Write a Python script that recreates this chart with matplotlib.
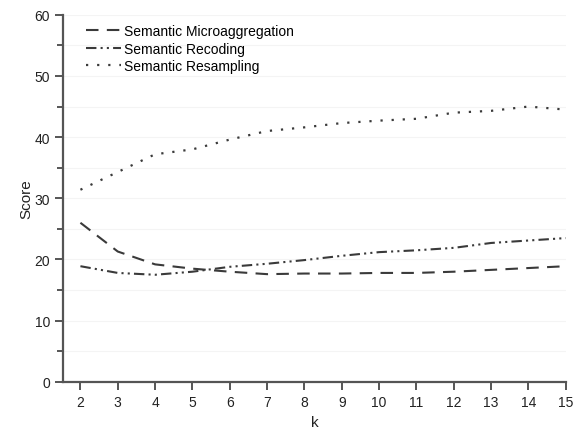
import matplotlib.pyplot as plt

plt.rcParams['font.family'] = ['Liberation Sans', 'DejaVu Sans']

k_values = list(range(2, 16))
microaggregation = [26.0, 21.3, 19.2, 18.5, 18.0, 17.6, 17.7, 17.7, 17.8, 17.8, 18.0, 18.3, 18.6, 18.9]
recoding = [18.9, 17.8, 17.5, 18.0, 18.8, 19.3, 19.9, 20.6, 21.2, 21.5, 21.9, 22.7, 23.1, 23.5]
resampling = [31.4, 34.3, 37.2, 38.0, 39.6, 41.0, 41.6, 42.3, 42.7, 43.0, 44.0, 44.3, 45.0, 44.5]

line_color = '#3a3a3a'
spine_color = '#555555'
text_color = '#222222'

fig = plt.figure(figsize=(5.75, 4.39), dpi=100)
ax = fig.add_axes([0.11, 0.128, 0.874, 0.836])

ax.plot(k_values, microaggregation, color=line_color, lw=1.5,
        dashes=(6, 4), label='Semantic Microaggregation')
ax.plot(k_values, recoding, color=line_color, lw=1.5,
        dashes=(5, 2, 1, 2, 1, 2), label='Semantic Recoding')
ax.plot(k_values, resampling, color=line_color, lw=1.6,
        dashes=(1, 4), label='Semantic Resampling')

ax.set_xlim(1.54, 15)
ax.set_ylim(0, 60)
ax.set_xticks(k_values)
ax.set_yticks(range(0, 61, 10))
ax.set_yticks(range(5, 60, 10), minor=True)

# faint horizontal guides every 5 units
for y in range(5, 61, 5):
    ax.axhline(y, color='#f4f4f4', lw=0.8, zorder=0)

for side in ('top', 'right'):
    ax.spines[side].set_visible(False)
for side in ('left', 'bottom'):
    ax.spines[side].set_color(spine_color)
    ax.spines[side].set_linewidth(1.6)

ax.tick_params(axis='both', which='both', direction='out', color=spine_color,
               width=1.4, labelsize=10, labelcolor=text_color)
ax.tick_params(axis='both', which='major', length=6)
ax.tick_params(axis='y', which='minor', length=4)

ax.set_xlabel('k', fontsize=11, color=text_color)
ax.set_ylabel('Score', fontsize=11, color=text_color, labelpad=1)

ax.legend(loc='upper left', frameon=False, fontsize=10, handlelength=2.5,
          handletextpad=0.2, labelspacing=0.25, borderaxespad=0.0,
          bbox_to_anchor=(0.035, 0.99))

fig.savefig('out.png', dpi=100)
